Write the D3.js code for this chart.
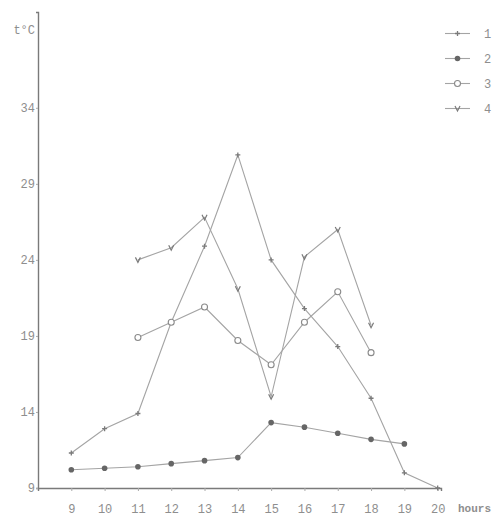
<!DOCTYPE html>
<html><head><meta charset="utf-8">
<script src="https://cdn.jsdelivr.net/npm/d3@7"></script>
<style>
html,body{margin:0;padding:0;background:#fff;}
text{font-family:"Liberation Mono","DejaVu Sans Mono",monospace;fill:#8e8e8e;}
</style></head><body>
<svg id="c" width="500" height="518"></svg>
<script>
const hours = [9,10,11,12,13,14,15,16,17,18,19,20];
const xTickLabels = ["9","10","11","12","13","14","15","16","17","18","19","20"];
const yTicks = [9,14,19,24,29,34];
const seriesNames = ["1","2","3","4"];
const s1Hours = [9,10,11,12,13,14,15,16,17,18,19,20];
const s1 = [11.3,12.9,13.9,19.9,24.9,30.9,24.0,20.8,18.3,14.9,10.0,9.0];
const s2Hours = [9,10,11,12,13,14,15,16,17,18,19];
const s2 = [10.2,10.3,10.4,10.6,10.8,11.0,13.3,13.0,12.6,12.2,11.9];
const s3Hours = [11,12,13,14,15,16,17,18];
const s3 = [18.9,19.9,20.9,18.7,17.1,19.9,21.9,17.9];
const s4Hours = [11,12,13,14,15,16,17,18];
const s4 = [24.0,24.8,26.8,22.1,15.0,24.2,26.0,19.7];

const svg = d3.select("#c");
const x = d3.scaleLinear().domain([8, 20.1]).range([38, 441]);
const y = d3.scaleLinear().domain([9, 40.3]).range([488, 12]);
const lineCol = "#a4a4a4", axisCol = "#7a7a7a";

// axes
const xAxis = d3.axisBottom(x).tickValues(hours).tickSize(3).tickFormat((d,i)=>xTickLabels[i]);
const gx = svg.append("g").attr("transform","translate(0,488)").call(xAxis);
gx.select(".domain").attr("stroke",axisCol).attr("stroke-width",1.4);
gx.selectAll(".tick line").attr("stroke","#aaa");
gx.selectAll(".tick text").attr("dy","1.55em").style("font-size","12px").attr("fill","#8e8e8e");

const yAxis = d3.axisLeft(y).tickValues(yTicks).tickSize(2).tickPadding(1);
const gy = svg.append("g").attr("transform","translate(38,0)").call(yAxis);
gy.select(".domain").attr("stroke",axisCol).attr("stroke-width",1.4);
gy.selectAll(".tick line").attr("stroke","#aaa");
gy.selectAll(".tick text").style("font-size","12px").attr("fill","#8e8e8e");

svg.append("text").attr("x",35).attr("y",34).attr("text-anchor","end").style("font-size","12px").text("t°C");
svg.append("text").attr("x",458).attr("y",512).style("font-size","11px").style("font-weight","bold").text("hours");

const series = [
  {hrs:s1Hours, vals:s1, m:"plus"},
  {hrs:s2Hours, vals:s2, m:"dot"},
  {hrs:s3Hours, vals:s3, m:"circle"},
  {hrs:s4Hours, vals:s4, m:"v"}
];
const line = d3.line().x(d=>x(d[0])).y(d=>y(d[1]));

function marker(g, type, cx, cy){
  if(type==="plus"){
    g.append("path").attr("d",`M${cx-2.5},${cy}H${cx+2.5}M${cx},${cy-2.5}V${cy+2.5}`).attr("stroke","#7a7a7a").attr("stroke-width",1.3);
  } else if(type==="dot"){
    g.append("circle").attr("cx",cx).attr("cy",cy).attr("r",2.8).attr("fill","#666");
  } else if(type==="circle"){
    g.append("circle").attr("cx",cx).attr("cy",cy).attr("r",3).attr("fill","#fff").attr("stroke","#8a8a8a").attr("stroke-width",1.1);
  } else {
    g.append("path").attr("d",`M${cx-2.5},${cy-2.5}L${cx},${cy+2.5}L${cx+2.5},${cy-2.5}`).attr("fill","none").attr("stroke","#7a7a7a").attr("stroke-width",1.2);
  }
}

series.forEach(s=>{
  const pts = s.hrs.map((h,i)=>[h,s.vals[i]]);
  svg.append("path").attr("d",line(pts)).attr("fill","none").attr("stroke",lineCol).attr("stroke-width",1.1);
  const g = svg.append("g");
  pts.forEach(p=>marker(g, s.m, x(p[0]), y(p[1])));
});

// legend
const ly = d3.scaleBand().domain(seriesNames).range([21,121]);
seriesNames.forEach((n,i)=>{
  const cy = ly(n)+ly.bandwidth()/2;
  svg.append("line").attr("x1",445).attr("x2",470).attr("y1",cy).attr("y2",cy).attr("stroke",lineCol).attr("stroke-width",1.1);
  marker(svg, series[i].m, 457.5, cy);
  svg.append("text").attr("x",484).attr("y",cy+4).style("font-size","12px").text(n);
});
</script></body></html>
